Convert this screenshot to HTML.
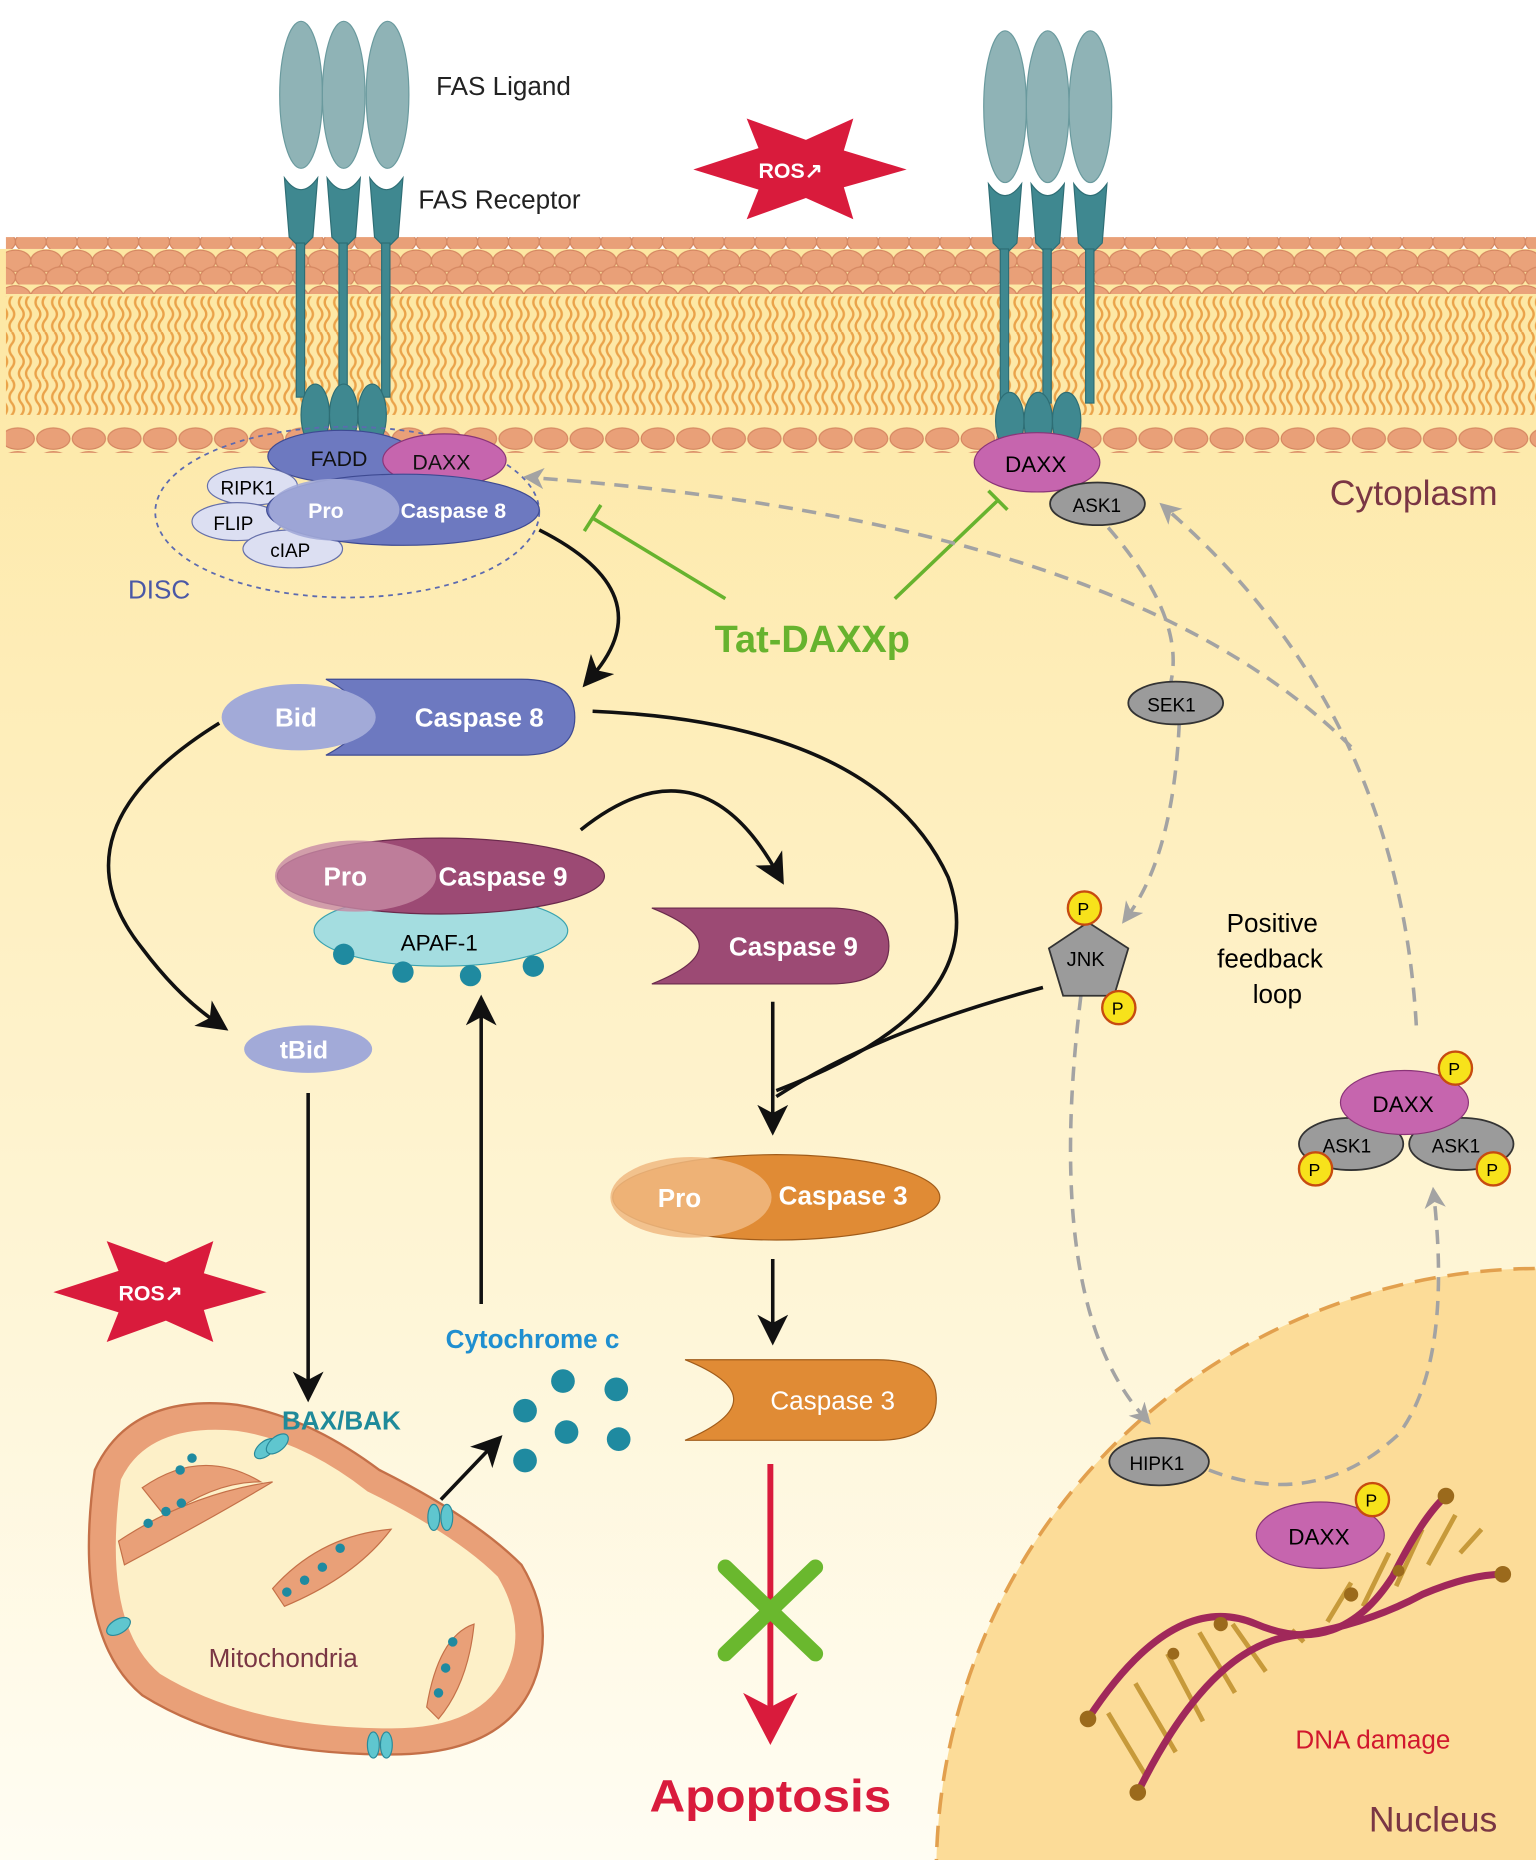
<!DOCTYPE html>
<html><head><meta charset="utf-8"><style>html,body{margin:0;padding:0;background:#fff;width:1536px;height:1860px;overflow:hidden}svg{display:block}text{font-family:"Liberation Sans",sans-serif}</style></head>
<body>
<svg width="1536" height="1860" viewBox="0 0 1296 1569" preserveAspectRatio="none" xmlns="http://www.w3.org/2000/svg">
<defs>
<linearGradient id="cy" x1="0" y1="0" x2="0" y2="1">
<stop offset="0" stop-color="#fde7a2"/><stop offset="1" stop-color="#fffdf3"/></linearGradient>
<pattern id="heads" x="0" y="0" width="26" height="30" patternUnits="userSpaceOnUse">
<ellipse cx="13" cy="10" rx="13" ry="9" fill="#eaa27a" stroke="#d48660" stroke-width="1"/>
<ellipse cx="0" cy="24" rx="13" ry="9" fill="#e9a078" stroke="#d48660" stroke-width="1"/>
<ellipse cx="26" cy="24" rx="13" ry="9" fill="#e9a078" stroke="#d48660" stroke-width="1"/>
</pattern>
<pattern id="tails" x="0" y="0" width="14" height="40" patternUnits="userSpaceOnUse">
<path d="M4 0 q4 5 0 10 q-4 5 0 10 q4 5 0 10 q-4 5 0 10" fill="none" stroke="#eaa34a" stroke-width="2"/>
<path d="M10 0 q4 5 0 10 q-4 5 0 10 q4 5 0 10 q-4 5 0 10" fill="none" stroke="#eaa34a" stroke-width="2"/>
</pattern>
<pattern id="bheads" x="0" y="0" width="30" height="20" patternUnits="userSpaceOnUse">
<ellipse cx="15" cy="10" rx="14" ry="9" fill="#e9a078" stroke="#d48660"/>
</pattern>
<marker id="ag" markerWidth="18" markerHeight="18" refX="9" refY="9" orient="auto" markerUnits="userSpaceOnUse" viewBox="0 0 18 18"><path d="M0 0 L18 9 L0 18 L5 9Z" fill="#a3a3a3"/></marker>
<marker id="abk" markerWidth="26" markerHeight="26" refX="13" refY="13" orient="auto" markerUnits="userSpaceOnUse" viewBox="0 0 26 26"><path d="M0 0 L26 13 L0 26 L7 13Z" fill="#111"/></marker>
</defs>
<rect width="1296" height="1569" fill="#fff"/>
<rect x="0" y="210" width="1296" height="1359" fill="url(#cy)"/>
<circle cx="1300" cy="1580" r="510" fill="#fcdc98" stroke="#e2a04e" stroke-width="3" stroke-dasharray="18 10"/>
<rect x="5" y="200" width="1291" height="48" fill="url(#heads)"/>
<rect x="5" y="250" width="1291" height="100" fill="url(#tails)"/>
<rect x="5" y="360" width="1291" height="22" fill="url(#bheads)"/>
<g fill="#8fb3b6" stroke="#6a9a9e">
<ellipse cx="254" cy="80" rx="18" ry="62"/><ellipse cx="290" cy="80" rx="18" ry="62"/><ellipse cx="327" cy="80" rx="18" ry="62"/>
<ellipse cx="848" cy="90" rx="18" ry="64"/><ellipse cx="884" cy="90" rx="18" ry="64"/><ellipse cx="920" cy="90" rx="18" ry="64"/>
</g>
<g fill="#3f8890" stroke="#2e6e75">
<path d="M240 150 q14 20 28 0 l-4 50 l-10 10 l-10 -10z"/><path d="M276 150 q14 20 28 0 l-4 50 l-10 10 l-10 -10z"/><path d="M312 150 q14 20 28 0 l-4 50 l-10 10 l-10 -10z"/>
<rect x="250" y="205" width="7" height="130"/><rect x="286" y="205" width="7" height="130"/><rect x="322" y="205" width="7" height="130"/>
<ellipse cx="266" cy="350" rx="12" ry="26"/><ellipse cx="290" cy="350" rx="12" ry="26"/><ellipse cx="314" cy="350" rx="12" ry="26"/>
<path d="M834 155 q14 20 28 0 l-4 50 l-10 10 l-10 -10z"/><path d="M870 155 q14 20 28 0 l-4 50 l-10 10 l-10 -10z"/><path d="M906 155 q14 20 28 0 l-4 50 l-10 10 l-10 -10z"/>
<rect x="844" y="210" width="7" height="130"/><rect x="880" y="210" width="7" height="130"/><rect x="916" y="210" width="7" height="130"/>
<ellipse cx="852" cy="355" rx="12" ry="24"/><ellipse cx="876" cy="355" rx="12" ry="24"/><ellipse cx="900" cy="355" rx="12" ry="24"/>
</g>
<text x="368" y="80" font-size="22" fill="#222">FAS Ligand</text>
<text x="353" y="176" font-size="22" fill="#222">FAS Receptor</text>
<polygon points="585,143 640,125 630,100 680,118 720,100 712,127 765,143 712,158 720,185 680,167 630,185 640,160" fill="#d91b3c"/>
<text x="640" y="150" font-size="18" font-weight="bold" fill="#fff">ROS↗</text>
<ellipse cx="293" cy="432" rx="162" ry="72" fill="none" stroke="#5c6ab0" stroke-width="1.5" stroke-dasharray="4 4"/>
<text x="108" y="505" font-size="22" fill="#4a58a6">DISC</text>
<ellipse cx="288" cy="385" rx="62" ry="22" fill="#6d79c0" stroke="#3e4a92"/>
<text x="262" y="393" font-size="18" fill="#111">FADD</text>
<ellipse cx="375" cy="388" rx="52" ry="22" fill="#c665ae" stroke="#8a3478"/>
<text x="348" y="396" font-size="18" fill="#111">DAXX</text>
<ellipse cx="213" cy="410" rx="38" ry="16" fill="#dcdff2" stroke="#6670aa"/><text x="186" y="417" font-size="16">RIPK1</text>
<ellipse cx="200" cy="440" rx="38" ry="16" fill="#dcdff2" stroke="#6670aa"/><text x="180" y="447" font-size="16">FLIP</text>
<ellipse cx="247" cy="463" rx="42" ry="16" fill="#dcdff2" stroke="#6670aa"/><text x="228" y="470" font-size="16">cIAP</text>
<ellipse cx="340" cy="430" rx="115" ry="30" fill="#6d79c0" stroke="#3e4a92"/>
<ellipse cx="282" cy="430" rx="55" ry="26" fill="#a2aad8" opacity=".9"/>
<text x="260" y="437" font-size="18" font-weight="bold" fill="#fff">Pro</text>
<text x="338" y="437" font-size="18" font-weight="bold" fill="#fff">Caspase 8</text>
<ellipse cx="875" cy="390" rx="53" ry="25" fill="#c665ae" stroke="#8a3478"/><text x="848" y="398" font-size="19">DAXX</text>
<ellipse cx="926" cy="425" rx="40" ry="18" fill="#9b9b9b" stroke="#333" stroke-width="1.5"/><text x="905" y="432" font-size="16">ASK1</text>
<text x="1122" y="426" font-size="30" fill="#7a3644">Cytoplasm</text>
<g stroke="#67b32e" stroke-width="3" fill="none">
<path d="M612 505 L500 437"/><path d="M493 448 L507 426"/>
<path d="M755 505 L842 422"/><path d="M834 414 L850 430"/>
</g>
<text x="603" y="550" font-size="32" font-weight="bold" fill="#67b32e">Tat-DAXXp</text>
<g stroke="#a3a3a3" stroke-width="3" fill="none" stroke-dasharray="12 8">
<path d="M1140 630 Q950 440 450 403" marker-end="url(#ag)"/>
<path d="M1195 865 Q1180 600 985 430" marker-end="url(#ag)"/>
<path d="M935 445 Q1000 520 988 575"/>
<path d="M995 610 Q990 720 952 772" marker-end="url(#ag)"/>
<path d="M912 840 Q880 1100 965 1195" marker-end="url(#ag)"/>
<path d="M1020 1240 Q1110 1275 1180 1210 Q1225 1150 1210 1010" marker-end="url(#ag)"/>
</g>
<ellipse cx="992" cy="593" rx="40" ry="18" fill="#9b9b9b" stroke="#333" stroke-width="1.5"/><text x="968" y="600" font-size="16">SEK1</text>
<polygon points="918,778 952,800 940,840 897,840 885,800" fill="#9b9b9b" stroke="#333" stroke-width="1.5"/>
<text x="900" y="815" font-size="17">JNK</text>
<circle cx="915" cy="766" r="14" fill="#f7e21b" stroke="#c74b10" stroke-width="2"/><text x="909" y="772" font-size="15">P</text>
<circle cx="944" cy="850" r="14" fill="#f7e21b" stroke="#c74b10" stroke-width="2"/><text x="938" y="856" font-size="15">P</text>
<text x="1035" y="786" font-size="22">Positive</text>
<text x="1027" y="816" font-size="22">feedback</text>
<text x="1057" y="846" font-size="22">loop</text>
<ellipse cx="1140" cy="965" rx="44" ry="22" fill="#9b9b9b" stroke="#333" stroke-width="1.5"/><text x="1116" y="972" font-size="16">ASK1</text>
<ellipse cx="1233" cy="965" rx="44" ry="22" fill="#9b9b9b" stroke="#333" stroke-width="1.5"/><text x="1208" y="972" font-size="16">ASK1</text>
<ellipse cx="1185" cy="930" rx="54" ry="27" fill="#c665ae" stroke="#8a3478"/><text x="1158" y="938" font-size="19">DAXX</text>
<circle cx="1228" cy="901" r="14" fill="#f7e21b" stroke="#c74b10" stroke-width="2"/><text x="1222" y="907" font-size="15">P</text>
<circle cx="1110" cy="986" r="14" fill="#f7e21b" stroke="#c74b10" stroke-width="2"/><text x="1104" y="992" font-size="15">P</text>
<circle cx="1260" cy="986" r="14" fill="#f7e21b" stroke="#c74b10" stroke-width="2"/><text x="1254" y="992" font-size="15">P</text>
<ellipse cx="978" cy="1233" rx="42" ry="20" fill="#9b9b9b" stroke="#333" stroke-width="1.5"/><text x="953" y="1240" font-size="16">HIPK1</text>
<!-- DNA -->
<g stroke="#c79a3a" stroke-width="4">
<path d="M935 1445 L968 1500 M958 1420 L992 1478 M985 1395 L1015 1452 M1012 1377 L1042 1428 M1040 1370 L1068 1410 M1090 1375 L1100 1385 M1120 1368 L1140 1335 M1150 1355 L1172 1310 M1178 1338 L1200 1290 M1205 1320 L1228 1278 M1232 1310 L1250 1290"/>
</g>
<g stroke="#a0285a" stroke-width="6" fill="none">
<path d="M918 1450 Q990 1340 1060 1370 Q1130 1400 1175 1330 Q1200 1280 1220 1262"/>
<path d="M960 1512 Q1020 1390 1090 1380 Q1150 1372 1200 1345 Q1240 1328 1268 1328"/>
</g>
<g fill="#9b6a1c"><circle cx="918" cy="1450" r="7"/><circle cx="960" cy="1512" r="7"/><circle cx="1220" cy="1262" r="7"/><circle cx="1268" cy="1328" r="7"/><circle cx="1030" cy="1370" r="6"/><circle cx="1140" cy="1345" r="6"/><circle cx="990" cy="1395" r="5"/><circle cx="1180" cy="1325" r="5"/></g>
<ellipse cx="1114" cy="1295" rx="54" ry="28" fill="#c665ae" stroke="#8a3478"/><text x="1087" y="1303" font-size="19">DAXX</text>
<circle cx="1158" cy="1265" r="14" fill="#f7e21b" stroke="#c74b10" stroke-width="2"/><text x="1152" y="1271" font-size="15">P</text>
<text x="1093" y="1475" font-size="22" fill="#d1182e">DNA damage</text>
<text x="1155" y="1545" font-size="30" fill="#7a3644">Nucleus</text>
<path d="M275 573 L440 573 Q485 573 485 605 Q485 637 440 637 L275 637 Q335 605 275 573Z" fill="#6d79c0" stroke="#3e4a92"/>
<ellipse cx="252" cy="605" rx="65" ry="28" fill="#a2aad8"/>
<text x="232" y="613" font-size="22" font-weight="bold" fill="#fff">Bid</text>
<text x="350" y="613" font-size="22" font-weight="bold" fill="#fff">Caspase 8</text>
<g stroke="#111" stroke-width="3" fill="none">
<path d="M455 447 Q560 500 500 570" marker-end="url(#abk)"/>
<path d="M185 610 Q40 700 120 800 Q150 840 182 862" marker-end="url(#abk)"/>
<path d="M500 600 Q740 610 800 740 Q840 850 655 920"/>
<path d="M880 833 Q740 870 655 925"/>
<path d="M490 700 Q590 620 655 735" marker-end="url(#abk)"/>
<path d="M652 845 L652 945" marker-end="url(#abk)"/>
<path d="M652 1062 L652 1122" marker-end="url(#abk)"/>
<path d="M260 922 L260 1170" marker-end="url(#abk)"/>
<path d="M406 1100 L406 852" marker-end="url(#abk)"/>
<path d="M372 1265 L415 1220" marker-end="url(#abk)"/>
</g>
<ellipse cx="372" cy="785" rx="107" ry="30" fill="#a4dde0" stroke="#3aa3b0"/>
<text x="338" y="802" font-size="19">APAF-1</text>
<g fill="#1f8aa0"><circle cx="290" cy="805" r="9"/><circle cx="340" cy="820" r="9"/><circle cx="397" cy="823" r="9"/><circle cx="450" cy="815" r="9"/></g>
<ellipse cx="372" cy="739" rx="138" ry="32" fill="#9c4a74" stroke="#6a2a4c"/>
<ellipse cx="300" cy="739" rx="68" ry="30" fill="#c78aa4" opacity=".8"/>
<text x="273" y="747" font-size="22" font-weight="bold" fill="#fff">Pro</text>
<text x="370" y="747" font-size="22" font-weight="bold" fill="#fff">Caspase 9</text>
<path d="M550 766 L700 766 Q750 766 750 798 Q750 830 700 830 L550 830 Q630 798 550 766Z" fill="#9c4a74" stroke="#6a2a4c"/>
<text x="615" y="806" font-size="22" font-weight="bold" fill="#fff">Caspase 9</text>
<ellipse cx="260" cy="885" rx="54" ry="20" fill="#a2aad8"/>
<text x="236" y="893" font-size="21" font-weight="bold" fill="#fff">tBid</text>
<ellipse cx="655" cy="1010" rx="138" ry="36" fill="#e08b35" stroke="#a15c1a"/>
<ellipse cx="583" cy="1010" rx="68" ry="34" fill="#f0b981" opacity=".85"/>
<text x="555" y="1018" font-size="22" font-weight="bold" fill="#fff">Pro</text>
<text x="657" y="1016" font-size="22" font-weight="bold" fill="#fff">Caspase 3</text>
<path d="M578 1147 L740 1147 Q790 1147 790 1180 Q790 1215 740 1215 L578 1215 Q660 1180 578 1147Z" fill="#e08b35" stroke="#a15c1a"/>
<text x="650" y="1189" font-size="22" fill="#fff">Caspase 3</text>
<path d="M650 1235 L650 1440" stroke="#d91b3c" stroke-width="5"/>
<path d="M627 1428 L650 1472 L673 1428 L650 1440Z" fill="#d91b3c"/>
<g stroke="#6ab82e" stroke-width="13" stroke-linecap="round"><path d="M612 1322 L688 1395"/><path d="M688 1322 L612 1395"/></g>
<text x="548" y="1528" font-size="38" font-weight="bold" fill="#d91b3c" textLength="204" lengthAdjust="spacingAndGlyphs">Apoptosis</text>
<polygon points="45,1090 100,1072 90,1047 140,1065 180,1047 172,1074 225,1090 172,1105 180,1132 140,1114 90,1132 100,1107" fill="#d91b3c"/>
<text x="100" y="1097" font-size="18" font-weight="bold" fill="#fff">ROS↗</text>
<text x="376" y="1137" font-size="22" font-weight="bold" fill="#1f8fd0">Cytochrome c</text>
<g fill="#1f8aa0"><circle cx="475" cy="1165" r="10"/><circle cx="520" cy="1172" r="10"/><circle cx="443" cy="1190" r="10"/><circle cx="478" cy="1208" r="10"/><circle cx="522" cy="1214" r="10"/><circle cx="443" cy="1232" r="10"/></g>
<!-- mitochondria -->
<path d="M80 1240 Q110 1175 200 1185 Q260 1195 320 1240 Q400 1280 440 1320 Q470 1370 450 1420 Q425 1480 330 1480 Q200 1480 120 1430 Q60 1380 80 1240Z" fill="#e9a078" stroke="#c47048" stroke-width="2"/>
<path d="M102 1248 Q125 1200 200 1207 Q255 1215 310 1258 Q385 1295 420 1330 Q445 1372 428 1410 Q408 1458 330 1458 Q210 1458 135 1412 Q85 1370 102 1248Z" fill="#fdf0c8"/>
<g fill="#e9a078" stroke="#c47048">
<path d="M120 1255 Q170 1220 220 1250 Q180 1250 140 1280Z"/>
<path d="M100 1300 Q160 1260 230 1250 Q180 1280 105 1320Z"/>
<path d="M230 1340 Q270 1295 330 1290 Q300 1330 240 1355Z"/>
<path d="M360 1440 Q370 1380 400 1370 Q395 1420 370 1450Z"/>
</g>
<g fill="#1f8aa0"><circle cx="152" cy="1240" r="4"/><circle cx="162" cy="1230" r="4"/><circle cx="125" cy="1285" r="4"/><circle cx="140" cy="1275" r="4"/><circle cx="153" cy="1268" r="4"/><circle cx="242" cy="1343" r="4"/><circle cx="257" cy="1333" r="4"/><circle cx="272" cy="1322" r="4"/><circle cx="287" cy="1306" r="4"/><circle cx="382" cy="1385" r="4"/><circle cx="376" cy="1407" r="4"/><circle cx="370" cy="1428" r="4"/></g>
<g fill="#5fc6cf" stroke="#2a8a9a"><ellipse cx="224" cy="1222" rx="6" ry="11" transform="rotate(50 224 1222)"/><ellipse cx="234" cy="1218" rx="6" ry="11" transform="rotate(50 234 1218)"/><ellipse cx="366" cy="1280" rx="5" ry="11"/><ellipse cx="377" cy="1280" rx="5" ry="11"/><ellipse cx="100" cy="1372" rx="6" ry="11" transform="rotate(60 100 1372)"/><ellipse cx="315" cy="1472" rx="5" ry="11"/><ellipse cx="326" cy="1472" rx="5" ry="11"/></g>
<text x="176" y="1406" font-size="22" fill="#7a3644">Mitochondria</text>
<text x="238" y="1206" font-size="22" font-weight="bold" fill="#1f8a9a">BAX/BAK</text>
</svg>
</body></html>
